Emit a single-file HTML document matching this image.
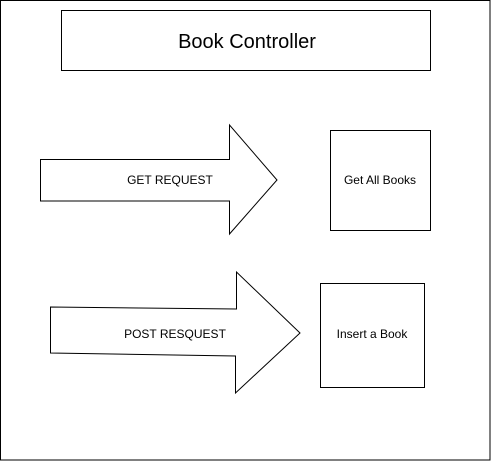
<!DOCTYPE html>
<html><head><style>
html,body{margin:0;padding:0;background:#fff;width:491px;height:461px;overflow:hidden}
svg{display:block}
text{font-family:"Liberation Sans",Arial,sans-serif;fill:#000}
</style></head><body>
<svg width="491" height="461" viewBox="0 0 491 461">
<rect x="0.5" y="0.5" width="489.5" height="459.5" fill="#fff" stroke="#000"/>
<rect x="61.5" y="10.5" width="369" height="60" fill="#fff" stroke="#000"/>
<text x="247" y="48" font-size="20" text-anchor="middle">Book Controller</text>
<polygon points="40.5,159.5 229.5,159.5 229.5,125 277,180 229.5,234 229.5,201 40.5,201" fill="#fff" stroke="#000"/>
<text x="170" y="184" font-size="12" text-anchor="middle">GET REQUEST</text>
<rect x="330.5" y="130.5" width="100" height="100" fill="#fff" stroke="#000"/>
<text x="380" y="184" font-size="12" text-anchor="middle">Get All Books</text>
<polygon points="50.5,307 236.5,309 236.5,272 300,333 235.5,393 235.5,356 50.5,353" fill="#fff" stroke="#000"/>
<text x="175" y="338" font-size="12" text-anchor="middle">POST RESQUEST</text>
<rect x="320.5" y="283.5" width="104" height="104" fill="#fff" stroke="#000"/>
<text x="372" y="338" font-size="12" text-anchor="middle">Insert a Book</text>
</svg>
</body></html>
